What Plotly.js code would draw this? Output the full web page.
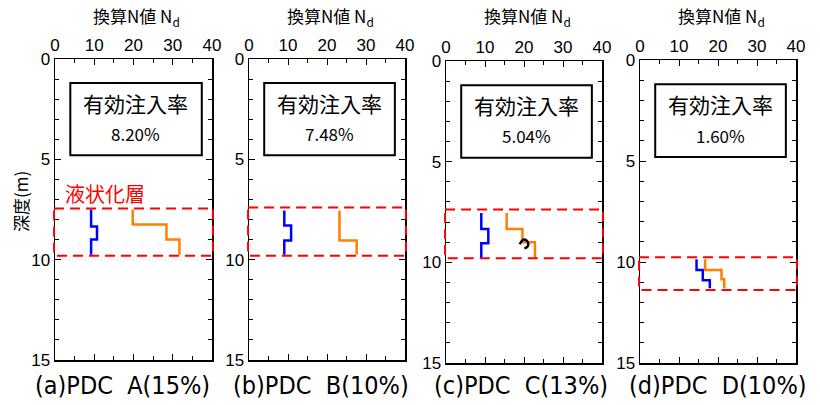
<!DOCTYPE html>
<html>
<head>
<meta charset="utf-8">
<script src="https://cdn.plot.ly/plotly-3.0.1.min.js"></script>
<style>
  html, body { margin: 0; padding: 0; background: #fff; }
  #chart { width: 820px; height: 405px; }
</style>
</head>
<body>
<div id="chart"></div>
<script>
// Converted N-value profiles (step profiles: layer boundaries in depth, N per layer)
const panelCaptions = ["(a)PDC\u00a0\u00a0A(15%)", "(b)PDC\u00a0\u00a0B(10%)", "(c)PDC\u00a0\u00a0C(13%)", "(d)PDC\u00a0\u00a0D(10%)"];
const injectionRates = ["8.20%", "7.48%", "5.04%", "1.60%"];

const blueBoundsA = [7.5, 8.35, 9.0, 9.75];
const blueNA = [9.2, 10.7, 9.2];
const orangeBoundsA = [7.5, 8.25, 9.0, 9.75];
const orangeNA = [19.8, 28.4, 31.7];

const blueBoundsB = [7.55, 8.3, 9.05, 9.75];
const blueNB = [9.05, 10.8, 9.05];
const orangeBoundsB = [7.55, 9.05, 9.75];
const orangeNB = [23.2, 27.6];

const blueBoundsC = [7.55, 8.35, 9.05, 9.8];
const blueNC = [9.05, 10.85, 9.05];
const orangeBoundsC = [7.55, 8.35, 9.0, 9.8];
const orangeNC = [15.55, 19.6, 22.8];

const blueBoundsD = [9.87, 10.4, 10.9, 11.3];
const blueND = [14.5, 16.1, 17.9];
const orangeBoundsD = [9.87, 10.4, 10.86, 11.3];
const orangeND = [16.7, 20.9, 21.6];

// liquefied layer (top, bottom) depth for each panel
const layerTop = [7.45, 7.4, 7.37, 9.77];
const layerBottom = [9.8, 9.8, 9.8, 11.39];

// small hand-drawn hook in panel (c)
const hookN = [18.9, 19.7, 20.6, 21.1, 20.8, 20.1];
const hookDepth = [9.1, 8.88, 8.9, 9.08, 9.25, 9.3];

const profiles = [
  {blue: [blueBoundsA, blueNA], orange: [orangeBoundsA, orangeNA]},
  {blue: [blueBoundsB, blueNB], orange: [orangeBoundsB, orangeNB]},
  {blue: [blueBoundsC, blueNC], orange: [orangeBoundsC, orangeNC]},
  {blue: [blueBoundsD, blueND], orange: [orangeBoundsD, orangeND]}
];

// subplot frames in pixels (left, right, top, bottom)
const W = 820, H = 405;
const frames = [
  [55, 212, 59, 360],
  [249, 405, 59, 360],
  [446, 602, 61, 363],
  [640, 796, 60, 363]
];
const captionCenters = [122, 321, 521, 718];

const cjk = "Noto Sans CJK JP, sans-serif";
const latin = "Liberation Sans, Arial, sans-serif";

function stepXY(bounds, nvals) {
  const x = nvals.slice();
  x.push(nvals[nvals.length - 1]);
  return {x: x, y: bounds.slice()};
}

const data = [];
const layout = {
  width: W, height: H,
  margin: {l: 0, r: 0, t: 0, b: 0},
  paper_bgcolor: "#fff", plot_bgcolor: "#fff",
  showlegend: false,
  shapes: [], annotations: []
};

profiles.forEach((p, i) => {
  const k = i === 0 ? "" : String(i + 1);
  const xa = "x" + k, ya = "y" + k;
  const f = frames[i];

  layout["xaxis" + k] = {
    domain: [f[0] / W, f[1] / W], anchor: ya, side: "top",
    range: [0, 40], tick0: 0, dtick: 10,
    ticks: "inside", ticklen: 6, tickwidth: 1, tickcolor: "#000",
    minor: {dtick: 5, ticks: "inside", ticklen: 4, tickcolor: "#000"},
    showline: true, linewidth: 1.5, linecolor: "#000", mirror: "ticks",
    showgrid: false, zeroline: false,
    tickfont: {family: latin, size: 17, color: "#000"}, fixedrange: true
  };
  layout["yaxis" + k] = {
    domain: [1 - f[3] / H, 1 - f[2] / H], anchor: xa,
    range: [15, 0], tick0: 0, dtick: 5,
    ticks: "inside", ticklen: 6, tickwidth: 1, tickcolor: "#000",
    minor: {dtick: 1, ticks: "inside", ticklen: 4, tickcolor: "#000"},
    showline: true, linewidth: 1.5, linecolor: "#000", mirror: "ticks",
    showgrid: false, zeroline: false,
    tickfont: {family: latin, size: 17, color: "#000"}, fixedrange: true
  };

  const b = stepXY(p.blue[0], p.blue[1]);
  const o = stepXY(p.orange[0], p.orange[1]);
  data.push({type: "scatter", mode: "lines", x: b.x, y: b.y, xaxis: xa, yaxis: ya,
             line: {color: "#0000ff", width: 2.5, shape: "vh"}, hoverinfo: "skip"});
  data.push({type: "scatter", mode: "lines", x: o.x, y: o.y, xaxis: xa, yaxis: ya,
             line: {color: "#ff8000", width: 2.5, shape: "vh"}, hoverinfo: "skip"});

  // liquefied layer outline
  layout.shapes.push({type: "rect", xref: xa + " domain", yref: ya,
    x0: -0.006, x1: 1.006, y0: layerTop[i], y1: layerBottom[i],
    line: {color: "#ff0000", width: 2, dash: "10px,6px"}, layer: "above"});

  // effective injection rate box
  layout.shapes.push({type: "rect", xref: xa, yref: ya,
    x0: 3.9, x1: 37.4, y0: 1.2, y1: 4.8,
    line: {color: "#000", width: 2}});
  layout.annotations.push({xref: xa, yref: ya, x: 20.6, y: 2.2, text: "有効注入率",
    xanchor: "center", showarrow: false, font: {family: cjk, size: 21, color: "#000"}});
  layout.annotations.push({xref: xa, yref: ya, x: 20.6, y: 3.72, text: injectionRates[i],
    xanchor: "center", showarrow: false, font: {family: cjk, size: 17, color: "#000"}});

  // top axis title
  layout.annotations.push({xref: xa + " domain", yref: "paper", x: 0.52, y: 1 - 16 / H,
    text: "換算N値 N<sub>d</sub>", showarrow: false, xanchor: "center", yanchor: "middle",
    font: {family: cjk, size: 17, color: "#000"}});

  // caption under the panel
  layout.annotations.push({xref: "paper", yref: "paper", x: captionCenters[i] / W, y: 1 - 385 / H,
    text: panelCaptions[i], showarrow: false, xanchor: "center", yanchor: "middle",
    font: {family: "Liberation Sans Narrow, DejaVu Sans Condensed, sans-serif", size: 25, color: "#000"}});
});

data.push({type: "scatter", mode: "lines", x: hookN, y: hookDepth, xaxis: "x3", yaxis: "y3",
           line: {color: "#000", width: 2.5, shape: "spline"}, hoverinfo: "skip"});

layout.annotations.push({xref: "x", yref: "y", x: 2.0, y: 6.7, xanchor: "left", text: "液状化層",
  showarrow: false, font: {family: cjk, size: 20, color: "#ff0000"}});
layout.annotations.push({xref: "paper", yref: "paper", x: 20 / W, y: 1 - 202 / H, text: "深度(m)",
  textangle: -90, showarrow: false, xanchor: "center", yanchor: "middle",
  font: {family: cjk, size: 17, color: "#000"}});

Plotly.newPlot("chart", data, layout, {displayModeBar: false, staticPlot: true});
</script>
</body>
</html>
